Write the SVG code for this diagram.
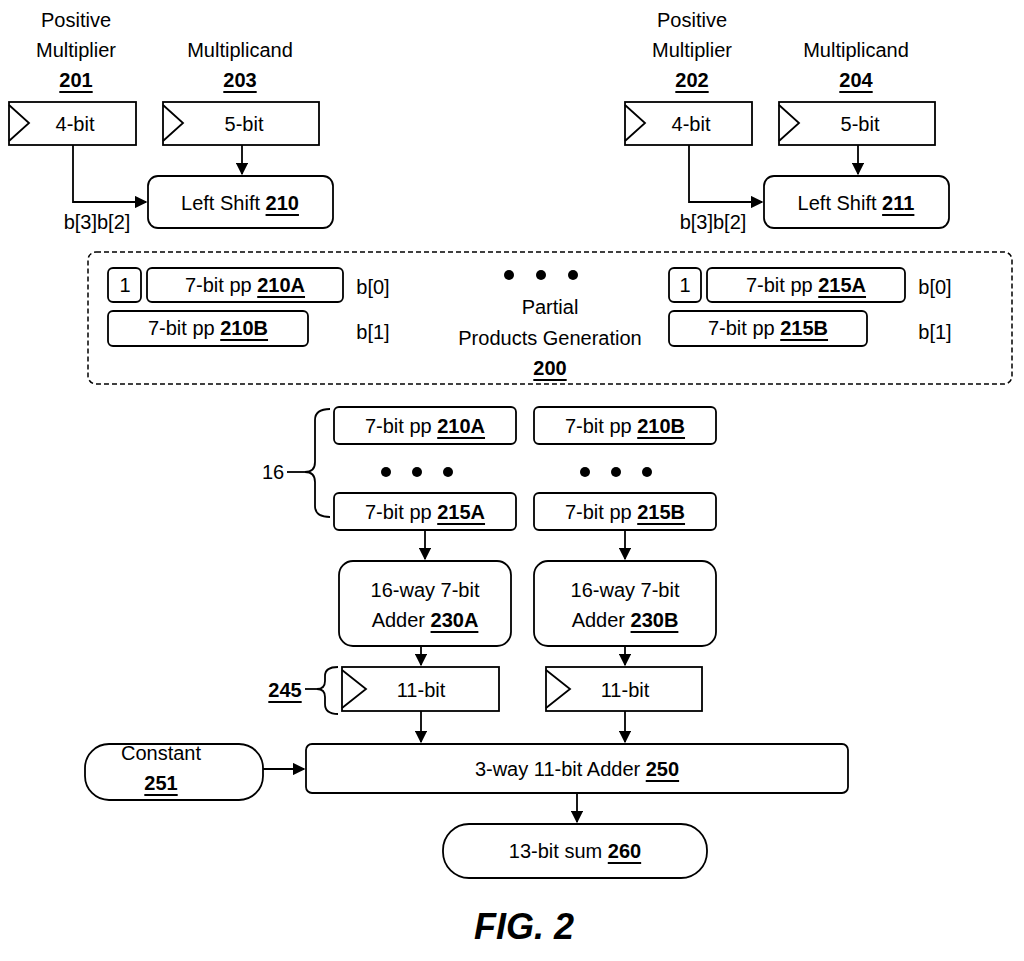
<svg xmlns="http://www.w3.org/2000/svg" width="1024" height="961" viewBox="0 0 1024 961">
<style>
text{font-family:"Liberation Sans",Arial,sans-serif;font-size:20px;fill:#000;text-anchor:middle;dominant-baseline:central}
.b{font-weight:bold;text-decoration:underline}
.s{fill:#fff;stroke:#000;stroke-width:1.8}
.l{fill:none;stroke:#000;stroke-width:1.8}
</style>
<defs><marker id="a" viewBox="0 0 10 10" refX="9" refY="5" markerWidth="7" markerHeight="7" orient="auto"><path d="M0,0 L10,5 L0,10 z"/></marker></defs>
<rect width="1024" height="961" fill="#fff"/>
<g id="connectors" class="l">
<path class="l" d="M242,145 V174" marker-end="url(#a)"/>
<path class="l" d="M73,145 V202 H146" marker-end="url(#a)"/>
<path class="l" d="M858,145 V174" marker-end="url(#a)"/>
<path class="l" d="M689,145 V202 H762" marker-end="url(#a)"/>
<path class="l" d="M425,530 V559" marker-end="url(#a)"/>
<path class="l" d="M625,530 V559" marker-end="url(#a)"/>
<path class="l" d="M421,646 V665" marker-end="url(#a)"/>
<path class="l" d="M625,646 V665" marker-end="url(#a)"/>
<path class="l" d="M421,711 V742" marker-end="url(#a)"/>
<path class="l" d="M625,711 V742" marker-end="url(#a)"/>
<path class="l" d="M263,769 H304" marker-end="url(#a)"/>
<path class="l" d="M577,793 V822" marker-end="url(#a)"/>
<path class="l" d="M330,409 Q315,409 315,420 V462 Q315,472 305,472 Q315,472 315,482 V506 Q315,517 330,517"/>
<path class="l" d="M287,472 H305"/>
<path class="l" d="M338,667 Q325,667 325,676 V681 Q325,689 317,689 Q325,689 325,697 V704 Q325,714 338,714"/>
<path class="l" d="M305,689 H317"/>
</g>
<g id="n201"><text x="76" y="20">Positive</text><text x="76" y="50">Multiplier</text><text x="76" y="80" class="b">201</text></g>
<g id="n203"><text x="240" y="50">Multiplicand</text><text x="240" y="80" class="b">203</text></g>
<g id="r4a"><rect class="s" x="9" y="102" width="127" height="43"/><path class="l" d="M9,105 L29,123 L9,141"/><text x="75" y="124">4-bit</text></g>
<g id="r5a"><rect class="s" x="163" y="102" width="156" height="43"/><path class="l" d="M163,105 L183,123 L163,141"/><text x="244" y="124">5-bit</text></g>
<g id="n210"><rect class="s" x="148" y="176" width="185" height="52" rx="10"/><text x="240" y="203">Left Shift <tspan class="b">210</tspan></text></g>
<text x="97" y="222">b[3]b[2]</text>
<g id="n202"><text x="692" y="20">Positive</text><text x="692" y="50">Multiplier</text><text x="692" y="80" class="b">202</text></g>
<g id="n204"><text x="856" y="50">Multiplicand</text><text x="856" y="80" class="b">204</text></g>
<g id="r4b"><rect class="s" x="625" y="102" width="127" height="43"/><path class="l" d="M625,105 L645,123 L625,141"/><text x="691" y="124">4-bit</text></g>
<g id="r5b"><rect class="s" x="779" y="102" width="156" height="43"/><path class="l" d="M779,105 L799,123 L779,141"/><text x="860" y="124">5-bit</text></g>
<g id="n211"><rect class="s" x="764" y="176" width="185" height="52" rx="10"/><text x="856" y="203">Left Shift <tspan class="b">211</tspan></text></g>
<text x="713" y="222">b[3]b[2]</text>
<g id="n200">
<rect x="88" y="252" width="924" height="132" rx="8" fill="none" stroke="#000" stroke-width="1.5" stroke-dasharray="5,3"/>
<rect class="s" x="108" y="268" width="33" height="34" rx="5"/><text x="125" y="285">1</text>
<rect class="s" x="147" y="268" width="196" height="34" rx="5"/><text x="245" y="285">7-bit pp <tspan class="b">210A</tspan></text>
<text x="373" y="287">b[0]</text>
<rect class="s" x="108" y="311" width="200" height="35" rx="5"/><text x="208" y="328">7-bit pp <tspan class="b">210B</tspan></text>
<text x="373" y="332">b[1]</text>
<circle cx="509" cy="275" r="5"/><circle cx="541" cy="275" r="5"/><circle cx="573" cy="275" r="5"/>
<text x="550" y="307">Partial</text><text x="550" y="338">Products Generation</text><text x="550" y="368" class="b">200</text>
<rect class="s" x="669" y="268" width="32" height="34" rx="5"/><text x="685" y="285">1</text>
<rect class="s" x="707" y="268" width="198" height="34" rx="5"/><text x="806" y="285">7-bit pp <tspan class="b">215A</tspan></text>
<text x="935" y="287">b[0]</text>
<rect class="s" x="669" y="311" width="198" height="35" rx="5"/><text x="768" y="328">7-bit pp <tspan class="b">215B</tspan></text>
<text x="935" y="332">b[1]</text>
</g>
<g id="p210A"><rect class="s" x="334" y="407" width="182" height="37" rx="5"/><text x="425" y="426">7-bit pp <tspan class="b">210A</tspan></text></g>
<g id="p210B"><rect class="s" x="534" y="407" width="182" height="37" rx="5"/><text x="625" y="426">7-bit pp <tspan class="b">210B</tspan></text></g>
<g id="dots"><circle cx="386" cy="472" r="5"/><circle cx="417" cy="472" r="5"/><circle cx="448" cy="472" r="5"/><circle cx="585" cy="472" r="5"/><circle cx="616" cy="472" r="5"/><circle cx="647" cy="472" r="5"/></g>
<text x="273" y="472">16</text>
<g id="p215A"><rect class="s" x="334" y="493" width="182" height="37" rx="5"/><text x="425" y="512">7-bit pp <tspan class="b">215A</tspan></text></g>
<g id="p215B"><rect class="s" x="534" y="493" width="182" height="37" rx="5"/><text x="625" y="512">7-bit pp <tspan class="b">215B</tspan></text></g>
<g id="n230A"><rect class="s" x="339" y="561" width="172" height="85" rx="14"/><text x="425" y="590">16-way 7-bit</text><text x="425" y="620">Adder <tspan class="b">230A</tspan></text></g>
<g id="n230B"><rect class="s" x="534" y="561" width="182" height="85" rx="14"/><text x="625" y="590">16-way 7-bit</text><text x="625" y="620">Adder <tspan class="b">230B</tspan></text></g>
<text x="285" y="690" class="b">245</text>
<g id="r11a"><rect class="s" x="342" y="667" width="157" height="44"/><path class="l" d="M342,670 L366,689 L342,708"/><text x="421" y="690">11-bit</text></g>
<g id="r11b"><rect class="s" x="546" y="667" width="156" height="44"/><path class="l" d="M546,670 L570,689 L546,708"/><text x="625" y="690">11-bit</text></g>
<g id="n251"><rect class="s" x="85" y="744" width="178" height="56" rx="24"/><text x="161" y="753">Constant</text><text x="161" y="783" class="b">251</text></g>
<g id="n250"><rect class="s" x="306" y="744" width="542" height="49" rx="6"/><text x="577" y="769">3-way 11-bit Adder <tspan class="b">250</tspan></text></g>
<g id="n260"><rect class="s" x="443" y="824" width="264" height="54" rx="26"/><text x="575" y="851">13-bit sum <tspan class="b">260</tspan></text></g>
<text x="524" y="926" style="font-size:36px;font-weight:bold;font-style:italic">FIG. 2</text>
</svg>
